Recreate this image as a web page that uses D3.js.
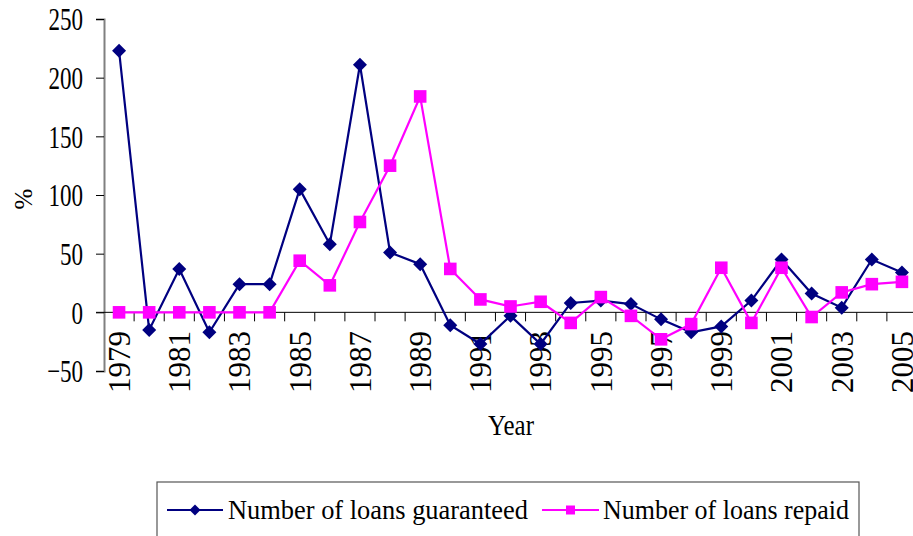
<!DOCTYPE html>
<html lang="en">
<head>
<meta charset="UTF-8">
<title>Loans guaranteed and repaid</title>
<style>
  body { margin:0; background:#fff; }
  #CHART { display:block; }
  #CHART text { font-family: "Liberation Serif", "Times New Roman", serif; fill:#000; }
</style>
</head>
<body>
<svg id="CHART" width="913" height="536"></svg>

<script src="https://cdnjs.cloudflare.com/ajax/libs/d3/7.8.5/d3.min.js"></script>
<script>
// data (% change per year)
var YEARS = [1979,1980,1981,1982,1983,1984,1985,1986,1987,1988,1989,1990,1991,1992,
             1993,1994,1995,1996,1997,1998,1999,2000,2001,2002,2003,2004,2005];
var GUARANTEED = [223,-15,37,-17,24,24,105,58,211,51,41,-11,-27,-3,
                  -27,8,10,7,-6,-17,-12,10,45,16,4,45,34];
var REPAID = [0,0,0,0,0,0,44,23,77,125,184,37,11,5,
              9,-9,13,-3,-23,-10,38,-9,38,-4,17,24,26];
var Y_TICKS = [-50,0,50,100,150,200,250];
var SERIES_NAMES = ["Number of loans guaranteed","Number of loans repaid"];
var SERIES_COLORS = ["#000080","#ff00ff"];

var svg = d3.select("#CHART");

var x = d3.scaleBand().domain(YEARS).range([104, 917]).padding(0);
var y = d3.scaleLinear().domain([-50, 250]).range([371, 19]);
var cx = function(yr){ return x(yr) + x.bandwidth()/2; };

// y axis
var yAxis = svg.append("g")
    .attr("transform", "translate(104,0)")
    .call(d3.axisLeft(y).tickValues(Y_TICKS).tickSize(8).tickSizeOuter(8).tickFormat(d3.format("d")));
yAxis.select(".domain").attr("stroke", "#808080").attr("stroke-width", 2);
yAxis.selectAll(".tick line").attr("stroke", "#000");
yAxis.selectAll(".tick text")
    .attr("x", 0).attr("dy", "0.34em")
    .attr("transform", "translate(-21,0) scale(0.72,1)")
    .style("font-size", "32px");

// zero line with category ticks
svg.append("line")
    .attr("x1", 96).attr("x2", 917)
    .attr("y1", y(0)).attr("y2", y(0))
    .attr("stroke", "#000").attr("stroke-width", 1);

svg.append("g").selectAll("line")
    .data(YEARS.slice(1))
    .join("line")
      .attr("x1", function(d){ return x(d); })
      .attr("x2", function(d){ return x(d); })
      .attr("y1", y(0)).attr("y2", y(0) + 9)
      .attr("stroke", "#000");

svg.append("g").selectAll("text")
    .data(YEARS.filter(function(d, i){ return i % 2 == 0; }))
    .join("text")
      .attr("transform", function(d){ return "translate(" + cx(d) + ",331) rotate(-90)"; })
      .attr("text-anchor", "end")
      .attr("dy", "0.35em")
      .style("font-size", "31px")
      .text(function(d){ return d; });

// axis titles
svg.append("text")
    .attr("transform", "translate(511,435) scale(0.83,1)")
    .attr("text-anchor", "middle")
    .style("font-size", "30px")
    .text("Year");

svg.append("text")
    .attr("transform", "translate(23,199) rotate(-90)")
    .attr("text-anchor", "middle")
    .attr("dy", "0.35em")
    .style("font-size", "25px")
    .text("%");

// markers
var diamond = function(r){ return "M0," + (-r) + "L" + r + ",0L0," + r + "L" + (-r) + ",0Z"; };
var square = function(r){ return "M" + (-r) + "," + (-r) + "H" + r + "V" + r + "H" + (-r) + "Z"; };

var line = d3.line()
    .x(function(d){ return cx(d.year); })
    .y(function(d){ return y(d.value); });

[GUARANTEED, REPAID].forEach(function(vals, s){
    var pts = YEARS.map(function(yr, i){ return { year: yr, value: vals[i] }; });
    var g = svg.append("g");
    g.append("path")
        .attr("d", line(pts))
        .attr("fill", "none")
        .attr("stroke", SERIES_COLORS[s])
        .attr("stroke-width", 2.2);
    g.selectAll("path.mk")
        .data(pts)
        .join("path")
          .attr("class", "mk")
          .attr("transform", function(d){ return "translate(" + cx(d.year) + "," + y(d.value) + ")"; })
          .attr("d", s == 0 ? diamond(7) : square(6.3))
          .attr("fill", SERIES_COLORS[s]);
});

// legend
var legend = svg.append("g");
legend.append("rect")
    .attr("x", 157).attr("y", 482)
    .attr("width", 702).attr("height", 80)
    .attr("fill", "none")
    .attr("stroke", "#555").attr("stroke-width", 1.2);

var LEG = [
    { x1: 167, x2: 223, tx: 228, tw: 300 },
    { x1: 542, x2: 599, tx: 603, tw: 246 }
];
LEG.forEach(function(l, s){
    legend.append("line")
        .attr("x1", l.x1).attr("x2", l.x2)
        .attr("y1", 510).attr("y2", 510)
        .attr("stroke", SERIES_COLORS[s]).attr("stroke-width", 2.2);
    legend.append("path")
        .attr("transform", "translate(" + ((l.x1 + l.x2) / 2) + ",510)")
        .attr("d", s == 0 ? diamond(5.5) : square(4.5))
        .attr("fill", SERIES_COLORS[s]);
    legend.append("text")
        .attr("x", l.tx).attr("y", 519)
        .attr("textLength", l.tw)
        .attr("lengthAdjust", "spacingAndGlyphs")
        .style("font-size", "27px")
        .text(SERIES_NAMES[s]);
});
</script>
</body>
</html>
